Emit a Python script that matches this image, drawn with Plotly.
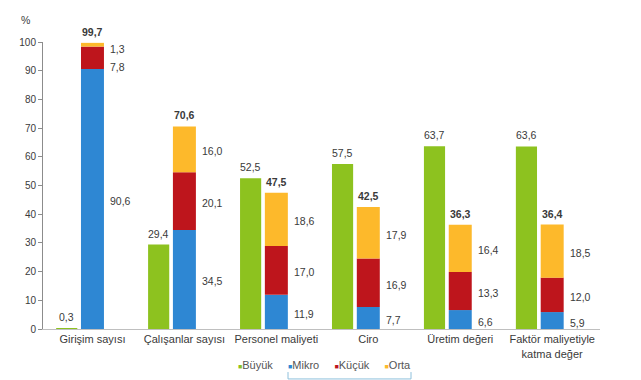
import plotly.graph_objects as go

categories = ["Girişim sayısı", "Çalışanlar sayısı", "Personel maliyeti", "Ciro",
              "Üretim değeri", "Faktör maliyetiyle<br>katma değer"]
buyuk = [0.3, 29.4, 52.5, 57.5, 63.7, 63.6]
mikro = [90.6, 34.5, 11.9, 7.7, 6.6, 5.9]
kucuk = [7.8, 20.1, 17.0, 16.9, 13.3, 12.0]
orta = [1.3, 16.0, 18.6, 17.9, 16.4, 18.5]
kobi_total = [99.7, 70.6, 47.5, 42.5, 36.3, 36.4]
series_names = ["Büyük", "Mikro", "Küçük", "Orta"]

C_GREEN = "#8DC21F"
C_BLUE = "#2E87D3"
C_RED = "#BE151C"
C_ORANGE = "#FDB92B"
colors = [C_GREEN, C_BLUE, C_RED, C_ORANGE]
TXT = "#3a3a3a"
FONT = "Liberation Sans, Arial, sans-serif"

def fmt(v):
    return f"{v:.1f}".replace(".", ",")

idx = list(range(len(categories)))
base_k = mikro[:]
base_o = [m + k for m, k in zip(mikro, kucuk)]

fig = go.Figure()
GW, GOFF = 0.23, -0.395
SW, SOFF = 0.25, -0.125
fig.add_trace(go.Bar(name="Büyük", x=idx, y=buyuk, marker_color=C_GREEN,
                     width=GW, offset=GOFF, marker_line_width=0))
fig.add_trace(go.Bar(name="Mikro", x=idx, y=mikro, marker_color=C_BLUE,
                     width=SW, offset=SOFF, marker_line_width=0))
fig.add_trace(go.Bar(name="Küçük", x=idx, y=kucuk, base=base_k, marker_color=C_RED,
                     width=SW, offset=SOFF, marker_line_width=0))
fig.add_trace(go.Bar(name="Orta", x=idx, y=orta, base=base_o, marker_color=C_ORANGE,
                     width=SW, offset=SOFF, marker_line_width=0))

ann = []
for i, v in enumerate(buyuk):
    ann.append(dict(x=i + GOFF + GW / 2, y=v, text=fmt(v), showarrow=False,
                    yanchor="bottom", yshift=3, font=dict(size=10.5, color=TXT, family=FONT)))
for i, v in enumerate(kobi_total):
    ann.append(dict(x=i, y=v, text="<b>" + fmt(v) + "</b>", showarrow=False,
                    yanchor="bottom", yshift=3, font=dict(size=10.5, color=TXT, family=FONT)))
shifts = {(0, "k"): -9, (0, "o"): -4}
for i in idx:
    segs = [("m", 0, mikro[i]), ("k", base_k[i], kucuk[i]), ("o", base_o[i], orta[i])]
    for key, b, v in segs:
        ys = shifts.get((i, key), -2)
        ann.append(dict(x=i + SOFF + SW, y=b + v / 2, text=fmt(v), showarrow=False,
                        xanchor="left", xshift=4, yshift=ys,
                        font=dict(size=10.5, color=TXT, family=FONT)))
ann.append(dict(x=0, xref="paper", y=1.0, yref="paper", text="%", showarrow=False,
                xanchor="center", yanchor="bottom", xshift=-18, yshift=14,
                font=dict(size=10.5, color=TXT, family=FONT)))

legend_parts = []
for n, c in zip(series_names, colors):
    legend_parts.append(f'<span style="color:{c};font-size:7px">■</span>{n}')
legend_text = "&nbsp;&nbsp;&nbsp;&nbsp;&nbsp;".join(legend_parts)
ann.append(dict(x=(325 - 43) / 557, xref="paper", y=-0.125, yref="paper",
                text=legend_text, showarrow=False, xanchor="center", yanchor="middle",
                font=dict(size=11, color="#555555", family=FONT)))

bx1, bx2 = (288 - 43) / 557, (411 - 43) / 557
by1, by2 = -0.150, -0.174
line_style = dict(color="#8ec0dc", width=1)
shapes = [
    dict(type="line", xref="paper", yref="paper", x0=bx1, x1=bx1, y0=by1, y1=by2, line=line_style),
    dict(type="line", xref="paper", yref="paper", x0=bx2, x1=bx2, y0=by1, y1=by2, line=line_style),
    dict(type="line", xref="paper", yref="paper", x0=bx1, x1=bx2, y0=by2, y1=by2, line=line_style),
]

fig.update_layout(
    width=641, height=380,
    margin=dict(l=43, r=41, t=42, b=51, autoexpand=False),
    plot_bgcolor="white", paper_bgcolor="white",
    barmode="overlay",
    showlegend=False,
    annotations=ann,
    shapes=shapes,
    font=dict(family=FONT, color=TXT),
)
fig.update_xaxes(tickmode="array", tickvals=idx, ticktext=categories,
                 range=[-0.538, 5.52], showline=True, linecolor="#bfbfbf", linewidth=1,
                 ticks="", showgrid=False, zeroline=False,
                 tickfont=dict(size=11, color=TXT, family=FONT))
fig.update_yaxes(range=[0, 100], dtick=10, showline=True, linecolor="#8c8c8c", linewidth=1,
                 ticks="outside", ticklen=4, tickcolor="#8c8c8c", showgrid=False,
                 zeroline=False, tickfont=dict(size=10, color=TXT, family=FONT))

fig.write_html("out.html")
